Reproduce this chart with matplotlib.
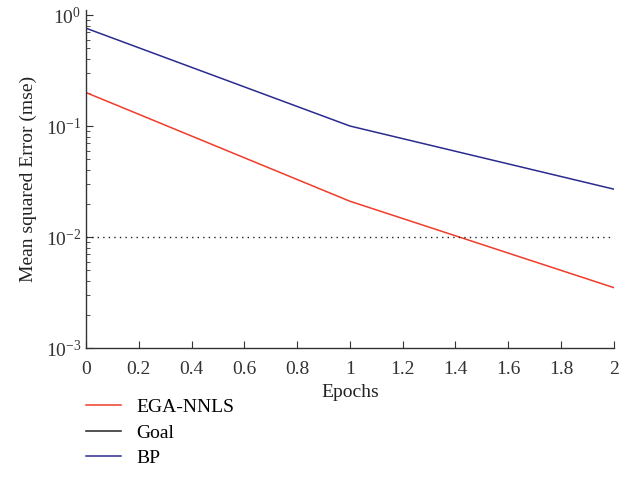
import matplotlib.pyplot as plt
import numpy as np
from matplotlib.lines import Line2D

plt.rcParams['font.family'] = ['Liberation Serif', 'DejaVu Serif']
plt.rcParams['mathtext.fontset'] = 'custom'
plt.rcParams['mathtext.rm'] = 'Liberation Serif'
plt.rcParams['mathtext.it'] = 'Liberation Serif:italic'
plt.rcParams['axes.unicode_minus'] = False

# data
epochs = [0, 1, 2]
ega_nnls = [0.20, 0.021, 0.0035]
bp = [0.76, 0.10, 0.027]
goal = 0.01

fig = plt.figure(figsize=(6.38, 5), dpi=100)
ax = fig.add_axes([0.135, 0.304, 0.827, 0.676])

l1, = ax.plot(epochs, ega_nnls, color='#f03c28', lw=1.1, label='EGA-NNLS')
ax.axhline(goal, color='#222222', lw=1.0, ls=(0, (1, 3)), label='Goal')
l3, = ax.plot(epochs, bp, color='#2b2b8f', lw=1.1, label='BP')

ax.set_yscale('log')
ax.set_xlim(0, 2)
ax.set_ylim(1e-3, 1.11)
ax.set_yticks([1e-3, 1e-2, 1e-1, 1])
ax.set_yticklabels(['$10^{-3}$', '$10^{-2}$', '$10^{-1}$', '$10^{0}$'])
ax.set_xticks(np.arange(0, 2.01, 0.2))
ax.set_xticklabels(['0', '0.2', '0.4', '0.6', '0.8', '1', '1.2', '1.4', '1.6', '1.8', '2'])

for s in ['top', 'right']:
    ax.spines[s].set_visible(False)
for s in ['left', 'bottom']:
    ax.spines[s].set_color('#333333')
    ax.spines[s].set_linewidth(1.0)
ax.tick_params(which='both', direction='in', labelsize=14, colors='#333333')
ax.tick_params(which='major', length=5)
ax.tick_params(which='minor', length=3)
ax.tick_params(axis='x', pad=9)

ax.set_xlabel('Epochs', fontsize=14, color='#222222', labelpad=5)
ax.set_ylabel('Mean squared Error (mse)', fontsize=14, color='#222222', labelpad=6)

h_goal = Line2D([], [], color='#222222', lw=1.1)
fig.legend([l1, h_goal, l3], ['EGA-NNLS', 'Goal', 'BP'],
           loc='upper left', bbox_to_anchor=(0.114, 0.231), frameon=False,
           fontsize=14, handlelength=1.8, handletextpad=0.75, labelspacing=0.42,
           borderpad=0.2)

fig.savefig('out.png', dpi=100)
